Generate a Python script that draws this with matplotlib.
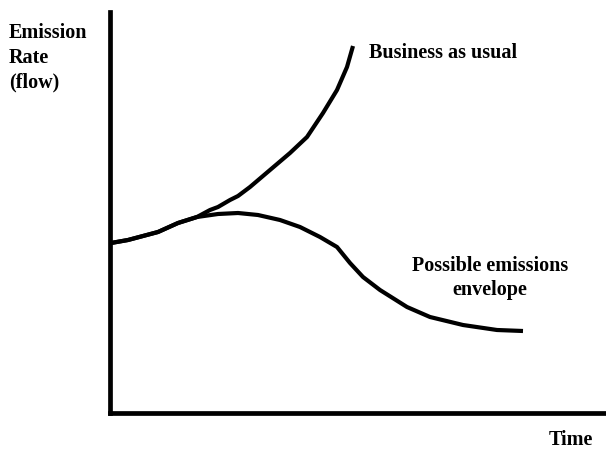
import matplotlib.pyplot as plt

# Emission paths, time vs rate (arbitrary units, origin at the axis corner)
bau_time = [1, 18, 48, 68, 87, 100, 108, 120, 128, 140, 160, 180, 197, 213, 227, 237, 243]
bau_rate = [170, 173, 181, 190, 196, 203, 206, 213, 217, 226, 243, 260, 276, 300, 323, 346, 367]

env_time = [1, 18, 48, 68, 87, 108, 128, 148, 170, 190, 210, 227, 240, 253, 270, 297, 320, 353, 387, 413]
env_rate = [170, 173, 181, 190, 196, 199, 200, 198, 193, 186, 176, 166, 150, 136, 123, 106, 96, 88, 83, 82]

W, H = 606, 450
fig = plt.figure(figsize=(W / 100, H / 100), dpi=100)
fig.patch.set_facecolor('white')

# axes box: left spine at x=110px, bottom spine at y=413px, top at 12px
ax = fig.add_axes([110 / W, (H - 413) / H, (W - 110) / W, (413 - 12) / H])
ax.set_xlim(0, W - 110)
ax.set_ylim(0, 413 - 12)
for side in ('top', 'right'):
    ax.spines[side].set_visible(False)
for side in ('left', 'bottom'):
    ax.spines[side].set_linewidth(3.4)
    ax.spines[side].set_capstyle('projecting')
ax.set_xticks([])
ax.set_yticks([])

ax.plot(bau_time, bau_rate, color='black', linewidth=3.0,
        solid_capstyle='butt', solid_joinstyle='round')
ax.plot(env_time, env_rate, color='black', linewidth=3.0,
        solid_capstyle='butt', solid_joinstyle='round')

font = dict(family='Liberation Serif', fontweight='bold', fontsize=14.5, color='black')


def label(px, py, s, ha='left'):
    fig.text(px / W, 1 - py / H, s, ha=ha, va='center', **font)


label(9, 33, 'Emission')
label(9, 58, 'Rate')
label(9, 82, '(flow)')
label(369, 53, 'Business as usual')
label(490, 266, 'Possible emissions', ha='center')
label(490, 290, 'envelope', ha='center')
label(571, 440, 'Time', ha='center')

fig.savefig('out.png', dpi=100)
